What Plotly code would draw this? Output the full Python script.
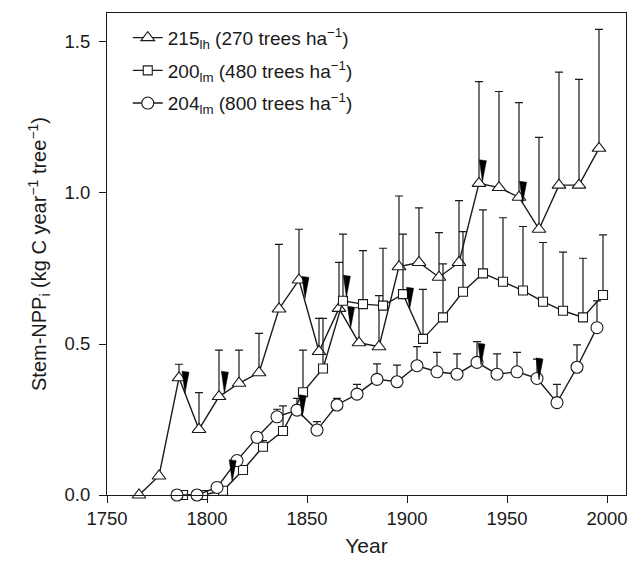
import plotly.graph_objects as go

# Stand 215_lh (270 trees/ha)
years_215 = [1766, 1776, 1786, 1796, 1806, 1816, 1826, 1836, 1846, 1856, 1866, 1876,
             1886, 1896, 1906, 1916, 1926, 1936, 1946, 1956, 1966, 1976, 1986, 1996]
npp_215 = [0.0, 0.063, 0.388, 0.217, 0.326, 0.37, 0.405, 0.616, 0.712, 0.475, 0.618, 0.504,
           0.491, 0.756, 0.770, 0.721, 0.770, 1.032, 1.018, 0.986, 0.880, 1.026, 1.026, 1.148]
err_215 = [0.0, 0.0, 0.045, 0.122, 0.154, 0.11, 0.13, 0.214, 0.168, 0.11, 0.152, 0.116,
           0.169, 0.234, 0.181, 0.148, 0.205, 0.337, 0.318, 0.313, 0.304, 0.374, 0.35, 0.394]

# Stand 200_lm (480 trees/ha)
years_200 = [1788, 1798, 1808, 1818, 1828, 1838, 1848, 1858, 1868, 1878, 1888,
             1898, 1908, 1918, 1928, 1938, 1948, 1958, 1968, 1978, 1988, 1998]
npp_200 = [0.0, 0.0, 0.014, 0.083, 0.16, 0.212, 0.34, 0.419, 0.643, 0.632, 0.627,
           0.665, 0.517, 0.588, 0.673, 0.734, 0.706, 0.677, 0.640, 0.610, 0.588, 0.662]
err_200 = [0.0, 0.0, 0.0, 0.0, 0.02, 0.083, 0.14, 0.166, 0.221, 0.177, 0.19,
           0.199, 0.164, 0.177, 0.199, 0.21, 0.212, 0.212, 0.196, 0.194, 0.196, 0.199]

# Stand 204_lm (800 trees/ha)
years_204 = [1785, 1795, 1805, 1815, 1825, 1835, 1845, 1855, 1865, 1875, 1885,
             1895, 1905, 1915, 1925, 1935, 1945, 1955, 1965, 1975, 1985, 1995]
npp_204 = [0.0, 0.0, 0.025, 0.114, 0.191, 0.259, 0.281, 0.215, 0.298, 0.334, 0.383,
           0.375, 0.428, 0.408, 0.40, 0.439, 0.40, 0.408, 0.386, 0.306, 0.423, 0.554]
err_204 = [0.0, 0.0, 0.0, 0.0, 0.0, 0.025, 0.039, 0.028, 0.022, 0.032, 0.051,
           0.055, 0.063, 0.064, 0.067, 0.069, 0.067, 0.064, 0.064, 0.06, 0.074, 0.089]

# Black wedge markers (tip position)
arrow_years = [1789, 1808.7, 1812.6, 1847.6, 1849, 1869.7, 1871.8, 1901.3,
               1937.7, 1937, 1957.8, 1966]
arrow_values = [0.337, 0.337, 0.044, 0.259, 0.651, 0.655, 0.552, 0.615,
                1.037, 0.43, 0.966, 0.381]

x_ticks = [1750, 1800, 1850, 1900, 1950, 2000]
y_ticks = [0.0, 0.5, 1.0, 1.5]
y_ticklabels = ["0.0", "0.5", "1.0", "1.5"]

FONT = "Liberation Sans, Arial, sans-serif"
INK = "#1a1a1a"

series = [
    (years_215, npp_215, err_215, "triangle-up", 12,
     "215<sub>lh</sub> (270 trees ha<sup>−1</sup>)"),
    (years_200, npp_200, err_200, "square", 9,
     "200<sub>lm</sub> (480 trees ha<sup>−1</sup>)"),
    (years_204, npp_204, err_204, "circle", 12,
     "204<sub>lm</sub> (800 trees ha<sup>−1</sup>)"),
]

fig = go.Figure()
for i, (xs, ys, es, sym, size, name) in enumerate(series):
    fig.add_trace(go.Scatter(
        x=xs, y=ys, name=name, mode="lines+markers",
        legendgroup=f"g{i}",
        line=dict(color=INK, width=1.4),
        marker=dict(symbol=sym, size=size, color="white",
                    line=dict(color=INK, width=1.1)),
        error_y=dict(type="data", symmetric=False, array=es,
                     arrayminus=[0] * len(es), color=INK,
                     thickness=1.2, width=4),
        cliponaxis=False,
    ))

for ax, av in zip(arrow_years, arrow_values):
    fig.add_shape(
        type="path", xref="x", yref="y",
        xsizemode="pixel", ysizemode="pixel",
        xanchor=ax, yanchor=av,
        path="M0,0 L-3,22 L4,21 Z",
        fillcolor="black", line=dict(color="black", width=0.5),
    )

fig.update_layout(
    width=629, height=572,
    margin=dict(l=107, r=1, t=13, b=77),
    paper_bgcolor="white", plot_bgcolor="white",
    font=dict(family=FONT, size=18, color=INK),
    showlegend=True,
    legend=dict(x=0.04, y=0.988, xanchor="left", yanchor="top",
                bgcolor="rgba(0,0,0,0)", font=dict(size=19),
                tracegroupgap=5, traceorder="grouped"),
    xaxis=dict(range=[1750, 2009.5], tickvals=x_ticks,
               ticks="outside", ticklen=7, tickwidth=1, tickcolor=INK,
               tickfont=dict(size=18.5), ticklabeloverflow="allow",
               showline=True, linecolor=INK, linewidth=1.2, mirror=True,
               showgrid=False, zeroline=False,
               title=dict(text="Year", font=dict(size=21), standoff=10)),
    yaxis=dict(range=[0, 1.596], tickvals=y_ticks, ticktext=y_ticklabels,
               ticks="outside", ticklen=7, tickwidth=1, tickcolor=INK,
               tickfont=dict(size=18.5), ticklabelstandoff=5,
               showline=True, linecolor=INK, linewidth=1.2, mirror=True,
               showgrid=False, zeroline=False,
               title=dict(text="Stem-NPP<sub>i</sub> (kg C year<sup>−1</sup> tree<sup>−1</sup>)",
                          font=dict(size=20), standoff=12)),
)

fig.write_html("out.html")
